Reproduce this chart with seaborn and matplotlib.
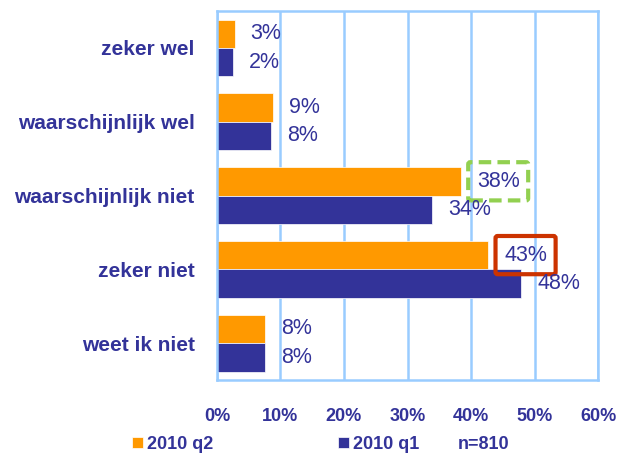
import pandas as pd
import matplotlib.pyplot as plt
import seaborn as sns

# Gegevens
antwoorden = ["zeker wel", "waarschijnlijk wel", "waarschijnlijk niet", "zeker niet", "weet ik niet"]
q2_waarden = [2.8, 8.8, 38.4, 42.7, 7.6]
q1_waarden = [2.5, 8.5, 33.9, 47.9, 7.6]
q2_labels = ["3%", "9%", "38%", "43%", "8%"]
q1_labels = ["2%", "8%", "34%", "48%", "8%"]
periodes = ["2010 q2", "2010 q1"]
x_ticks = [0, 10, 20, 30, 40, 50, 60]
x_ticklabels = ["0%", "10%", "20%", "30%", "40%", "50%", "60%"]

navy = "#333399"
oranje = "#FF9900"
lichtblauw = "#99CCFF"

df = pd.DataFrame({
    "antwoord": antwoorden * 2,
    "pct": q2_waarden + q1_waarden,
    "periode": [periodes[0]] * 5 + [periodes[1]] * 5,
})

sns.set_style("white")
plt.rcParams['font.family'] = ['Liberation Sans', 'DejaVu Sans']

fig = plt.figure(figsize=(6.21, 4.59), dpi=100)
ax = fig.add_axes([0.3494, 0.1721, 0.6136, 0.8039])

sns.barplot(data=df, y="antwoord", x="pct", hue="periode", hue_order=periodes,
            order=antwoorden, palette=[oranje, navy], orient="h", width=0.77,
            saturation=1, edgecolor="white", linewidth=0.5, ax=ax)

ax.set_xlim(0, 60)
ax.set_xticks(x_ticks)
ax.set_xticklabels(x_ticklabels)
ax.set_xlabel("")
ax.set_ylabel("")
ax.grid(axis="x", color=lichtblauw, linewidth=1.8)
ax.set_axisbelow(True)
for s in ax.spines.values():
    s.set_visible(True)
    s.set_color(lichtblauw)
    s.set_linewidth(1.8)
ax.tick_params(axis="x", length=0, pad=20, labelsize=13, labelcolor=navy)
ax.tick_params(axis="y", length=0, pad=16, labelsize=15, labelcolor=navy)
for t in ax.get_xticklabels() + ax.get_yticklabels():
    t.set_fontweight("bold")

# Labels bij de balken
lab_q2 = ax.bar_label(ax.containers[0], labels=q2_labels, padding=11.5, fontsize=15.5, color=navy)
lab_q1 = ax.bar_label(ax.containers[1], labels=q1_labels, padding=11.5, fontsize=15.5, color=navy)

lab_q2[2].set_bbox(dict(boxstyle="round,pad=0.4,rounding_size=0.1", fc="none",
                        ec="#92D050", lw=3, ls=(0, (3, 1.5))))
lab_q2[3].set_bbox(dict(boxstyle="round,pad=0.4,rounding_size=0.1", fc="none",
                        ec="#CC3300", lw=3))

# Legenda
sns.move_legend(ax, "center left", bbox_to_anchor=(0.186, 0.032), bbox_transform=fig.transFigure,
                ncol=2, frameon=False, title=None, handlelength=0.6, handleheight=0.6,
                handletextpad=0.25, columnspacing=6.9, fontsize=13)
for t in ax.get_legend().get_texts():
    t.set_color(navy)
    t.set_fontweight("bold")

fig.text(0.737, 0.032, "n=810", color=navy, fontsize=13, fontweight="bold", va="center")

plt.savefig("out.png", dpi=100)
